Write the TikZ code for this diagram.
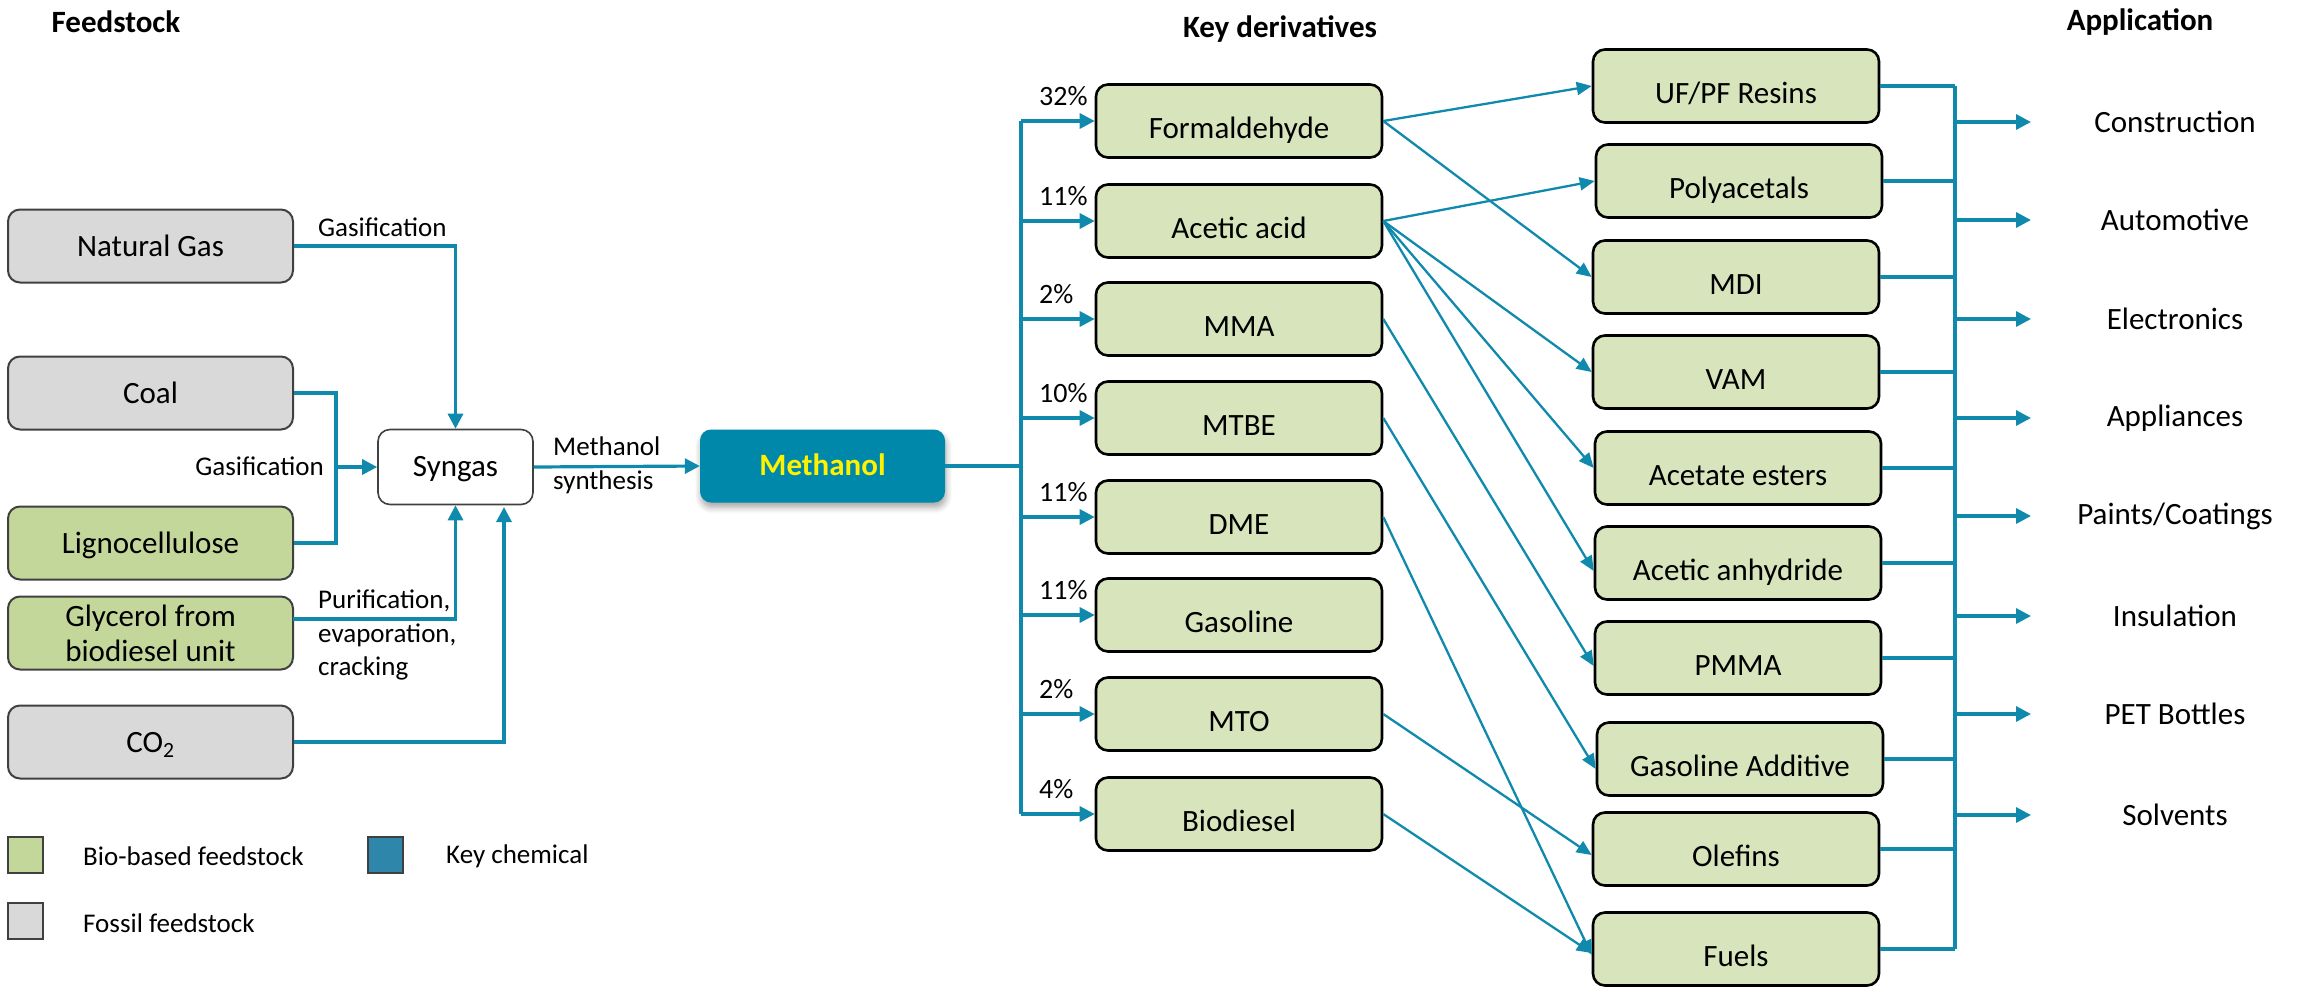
\documentclass[tikz,border=0pt]{standalone}
\usepackage{fontspec}
\setmainfont{Carlito}
\usetikzlibrary{arrows.meta,shadows.blur}
\definecolor{fossilgray}{HTML}{D9D9D9}
\definecolor{biogreen}{HTML}{C4D79B}
\definecolor{lightgreen}{HTML}{D8E4BC}
\definecolor{conn}{RGB}{16,138,172}
\definecolor{methfill}{RGB}{0,136,170}
\definecolor{legteal}{RGB}{46,134,171}
\definecolor{borderg}{HTML}{404040}
\newcommand\fsbox{\fontsize{31pt}{35pt}\selectfont}
\newcommand\fslab{\fontsize{27pt}{33.5pt}\selectfont}
\newcommand\fspct{\fontsize{28pt}{32pt}\selectfont}
\tikzset{
  feedbox/.style={draw=borderg, line width=2pt, rounded corners=12pt,
    minimum width=285pt, minimum height=73pt, inner sep=0pt, font=\fsbox},
  fossil/.style={feedbox, fill=fossilgray, text height=22pt, text depth=2pt},
  bio/.style={feedbox, fill=biogreen, text height=22pt, text depth=2pt},
  biotwo/.style={feedbox, fill=biogreen, align=center},
  derivbox/.style={draw=black, line width=2.6pt, rounded corners=12pt, fill=lightgreen,
    minimum width=286pt, minimum height=73pt, inner sep=0pt, font=\fsbox,
    text height=36pt, text depth=2pt},
  lab/.style={font=\fslab, inner sep=0pt},
  pct/.style={font=\fspct, inner sep=0pt, anchor=base west},
  title/.style={font=\fsbox\bfseries, inner sep=0pt},
  apptext/.style={font=\fsbox, inner sep=0pt},
  flow/.style={draw=conn, line width=3.2pt},
  flowarrow/.style={flow, -{Triangle[length=15pt,width=15pt]}},
  thin/.style={draw=conn, line width=2.3pt, -{Triangle[length=15pt,width=13pt]}},
  legsq/.style={draw=borderg, line width=1.6pt, minimum width=35pt, minimum height=36pt, inner sep=0pt},
}
\begin{document}
\begin{tikzpicture}[x=1pt,y=-1pt]
\useasboundingbox (0,0) rectangle (2301,986);

% titles
\node[title] (tfeed) at (116,22) {Feedstock};
\node[title] (tder) at (1280,29) {Key derivatives};
\node[title] (tapp) at (2140,22) {Application};

% feedstock
\node[fossil] (ng) at (150.5,246) {Natural Gas};
\node[fossil] (coal) at (150.5,393) {Coal};
\node[bio] (ligno) at (150.5,543) {Lignocellulose};
\node[biotwo] (glyc) at (150.5,633) {Glycerol from\\biodiesel unit};
\node[fossil] (co2) at (150.5,742) {CO\textsubscript{2}};

\node[draw=borderg, line width=1.6pt, rounded corners=12pt, fill=white,
  minimum width=155pt, minimum height=75pt, inner sep=0pt, font=\fsbox,
  text height=20pt, text depth=2pt] (syn) at (455.5,467) {Syngas};

\node[fill=methfill, rounded corners=11pt, minimum width=245pt, minimum height=73pt,
  inner sep=0pt, font=\fsbox\bfseries, text=yellow, text height=20pt, text depth=2pt,
  blur shadow={shadow xshift=1pt, shadow yshift=-5pt, shadow blur steps=6, shadow blur radius=6pt, shadow opacity=35}]
  (meth) at (822.5,466) {Methanol};

% feedstock connectors
\coordinate (cbus) at (336,467);
\draw[flowarrow] (ng.east) -- (syn.north |- ng.east) -- (syn.north);
\draw[flow] (coal.east) -- (coal.east -| cbus) -- (ligno.east -| cbus) -- (ligno.east);
\draw[flowarrow] (cbus) -- (syn.west);
\coordinate (gl) at (293,619);
\draw[flowarrow] (gl) -- (gl -| syn.south) -- (syn.south);
\coordinate (co2top) at (504,507);
\draw[flowarrow] (co2.east) -- (co2.east -| co2top) -- (co2top);
\draw[flowarrow] (syn.east) -- (meth.west);

\node[lab, anchor=base west] (lgas1) at (318,236) {Gasification};
\node[lab, anchor=base east] (lgas2) at (324,475) {Gasification};
\node[lab, anchor=north west, align=left] (lms) at (553,437) {Methanol\\synthesis};
\node[lab, anchor=north west, align=left] (lpur) at (318,590) {Purification,\\evaporation,\\cracking};

% derivatives
\node[derivbox] (form) at (1239,121) {Formaldehyde};
\node[derivbox] (acet) at (1239,221) {Acetic acid};
\node[derivbox] (mma) at (1239,319) {MMA};
\node[derivbox] (mtbe) at (1239,418) {MTBE};
\node[derivbox] (dme) at (1239,517) {DME};
\node[derivbox] (gaso) at (1239,615) {Gasoline};
\node[derivbox] (mto) at (1239,714) {MTO};
\node[derivbox] (biod) at (1239,814) {Biodiesel};

\coordinate (btop) at (1021,121);
\coordinate (bbot) at (1021,814);
\draw[flow] (meth.east) -- (meth.east -| btop);
\draw[flow] (btop) -- (bbot);
\foreach \n/\p in {form/32\%,acet/11\%,mma/2\%,mtbe/10\%,dme/11\%,gaso/11\%,mto/2\%,biod/4\%}{
  \draw[flowarrow] (\n.west -| btop) -- (\n.west);
  \node[pct] (p\n) at ([yshift=16pt]\n.west -| 1039,0) {\p};
}

% products
\node[derivbox] (ufpf) at (1736,86) {UF/PF Resins};
\node[derivbox] (poly) at (1739,181) {Polyacetals};
\node[derivbox] (mdi) at (1736,277) {MDI};
\node[derivbox] (vam) at (1736,372) {VAM};
\node[derivbox] (aest) at (1738,468) {Acetate esters};
\node[derivbox] (anh) at (1738,563) {Acetic anhydride};
\node[derivbox] (pmma) at (1738,658) {PMMA};
\node[derivbox] (gadd) at (1740,759) {Gasoline Additive};
\node[derivbox] (olef) at (1736,849) {Olefins};
\node[derivbox] (fuel) at (1736,949) {Fuels};

% derivative -> product
\draw[thin] (form.east) -- (ufpf.west);
\draw[thin] (form.east) -- (mdi.west);
\draw[thin] (acet.east) -- (poly.west);
\draw[thin] (acet.east) -- (vam.west);
\draw[thin] (acet.east) -- (aest.west);
\draw[thin] (acet.east) -- ([yshift=-8pt]anh.west);
\draw[thin] (mma.east) -- ([yshift=-8pt]pmma.west);
\draw[thin] (mtbe.east) -- ([yshift=-10pt]gadd.west);
\draw[thin] (dme.east) -- ([yshift=-6pt]fuel.west);
\draw[thin] (mto.east) -- ([yshift=-6pt]olef.west);
\draw[thin] (biod.east) -- ([yshift=-4pt]fuel.west);

% product bus
\coordinate (pbt) at (1955,86);
\coordinate (pbb) at (1955,949);
\draw[flow] (pbt) -- (pbb);
\foreach \n in {ufpf,poly,mdi,vam,aest,anh,pmma,gadd,olef,fuel}{
  \draw[flow] (\n.east) -- (\n.east -| pbt);
}

% applications
\foreach \t/\y/\nm in {Construction/122/a1,Automotive/220/a2,Electronics/319/a3,Appliances/418/a4,Paints\slash Coatings/516/a5,Insulation/616/a6,PET Bottles/714/a7,Solvents/815/a8}{
  \coordinate (s\nm) at (1955,\y);
  \node[apptext] (\nm) at (2175,\y) {\t};
  \draw[flowarrow] (s\nm) -- (2031,\y);
}

% legend
\node[legsq, fill=biogreen] (lg1) at (25.5,855) {};
\node[lab, anchor=west] (lt1) at (83,856) {Bio-based feedstock};
\node[legsq, fill=legteal] (lg2) at (385.5,855) {};
\node[lab, anchor=west] (lt2) at (446,856) {Key chemical};
\node[legsq, fill=fossilgray] (lg3) at (25.5,921) {};
\node[lab, anchor=west] (lt3) at (83,923) {Fossil feedstock};
\end{tikzpicture}
\end{document}
